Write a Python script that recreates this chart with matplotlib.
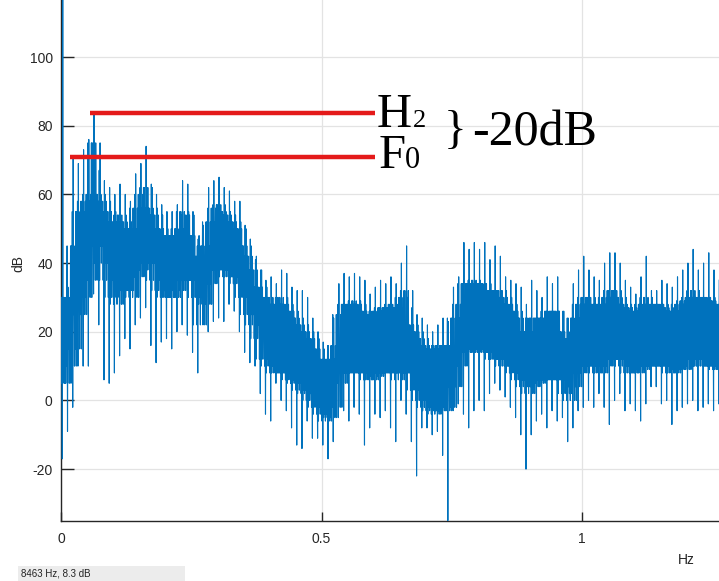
import matplotlib
matplotlib.use("Agg")
import matplotlib.pyplot as plt
import matplotlib.patches as mpatches
import numpy as np

plt.rcParams["axes.unicode_minus"] = False

# spectrum, one column per 0.01 Hz (0.00 .. 1.26)
spike_top = [118, 33, 71, 69, 73, 76, 84, 67, 64, 62, 60, 63, 60, 58, 66, 69, 74, 63, 60, 57,
             55, 55, 57, 64, 63, 55, 47, 51, 62, 64, 65, 62, 61, 58, 58, 51, 47, 41, 38, 35,
             36, 34, 38, 37, 33, 32, 32, 30, 24, 20, 17, 16, 24, 34, 37, 36, 37, 36, 35, 31,
             33, 35, 34, 36, 34, 40, 45, 27, 25, 24, 22, 20, 22, 24, 23, 33, 36, 46, 44, 46,
             44, 46, 41, 45, 42, 36, 35, 34, 33, 28, 35, 32, 30, 36, 34, 36, 26, 24, 34, 38,
             42, 38, 36, 35, 40, 43, 43, 40, 35, 33, 31, 36, 42, 32, 32, 35, 34, 33, 36, 38,
             40, 44, 38, 40, 43, 38, 35]
band_top = [30, 30, 45, 55, 58, 60, 75, 60, 58, 55, 52, 54, 52, 50, 56, 60, 62, 56, 54, 50,
            48, 48, 50, 55, 54, 48, 42, 45, 52, 56, 57, 55, 54, 52, 50, 45, 42, 38, 33, 30,
            30, 28, 30, 28, 26, 24, 22, 20, 18, 15, 12, 12, 16, 25, 28, 28, 29, 28, 26, 25,
            26, 27, 27, 28, 27, 30, 32, 22, 20, 18, 16, 15, 16, 16, 16, 24, 28, 34, 34, 35,
            34, 34, 32, 32, 32, 30, 28, 26, 24, 20, 24, 24, 24, 26, 26, 26, 20, 18, 24, 28,
            30, 30, 28, 28, 30, 32, 32, 30, 28, 27, 26, 28, 30, 28, 28, 28, 27, 26, 28, 29,
            30, 32, 30, 30, 30, 29, 28]
band_bottom = [5, 10, 15, 25, 30, 35, 45, 40, 35, 30, 28, 32, 32, 30, 36, 38, 40, 35, 32, 30,
               30, 30, 32, 35, 35, 30, 22, 28, 34, 38, 38, 36, 36, 34, 30, 25, 22, 18, 12, 10,
               8, 8, 8, 6, 5, 3, 2, 0, -2, -4, -6, -5, -2, 5, 8, 8, 8, 8, 6, 6,
               7, 8, 8, 8, 6, 8, 8, 3, 0, -2, -3, -4, -3, -3, -2, 4, 10, 14, 14, 15,
               14, 14, 12, 12, 10, 10, 8, 6, 4, 2, 4, 5, 6, 6, 6, 6, 2, 0, 4, 8,
               10, 10, 8, 8, 10, 12, 12, 10, 8, 8, 8, 9, 10, 10, 10, 10, 8, 8, 9, 9,
               10, 12, 10, 10, 10, 9, 9]
spike_bottom = [-17, -9, -2, 10, 10, 10, 31, 22, 6, 5, 8, 13, 18, 15, 22, 24, 27, 16, 11, 17,
                18, 15, 20, 22, 19, 14, 8, 22, 20, 23, 24, 23, 28, 26, 20, 14, 11, 10, 2, -4,
                -6, 5, 0, -3, -8, -13, -14, -6, -11, -11, -13, -17, -12, -5, -3, -6, -2, -4, -13, -8,
                -4, -5, -3, -8, -12, 0, -4, -12, -22, -8, -8, -10, -9, -16, -35, -3, -1, -4, -8, -3,
                0, -3, 2, 5, 3, 1, -2, -5, -10, -20, -10, -6, -4, -8, -3, -6, -5, -12, -8, -3,
                -2, 0, -2, 2, -2, -7, 0, 2, -3, -1, -3, -6, -1, 4, 4, -1, 0, -7, -3, -2,
                -1, 0, -3, -2, -1, -3, -1]
freq_step = 0.01

# annotation levels (dB) and spans (Hz)
h2_level, f0_level = 83.8, 71.0
h2_span = (0.056, 0.603)
f0_span = (0.017, 0.603)

W, H = 719, 581
fig = plt.figure(figsize=(W / 100, H / 100), dpi=100)
ax = fig.add_axes([61 / W, (H - 521) / H, (W - 61) / W, 521 / H])

# each column drawn as a dense zigzag; the band edges borrow the neighbouring
# columns' readings so the edge stays ragged instead of stepping
n = len(spike_top)
st, bt = np.array(spike_top), np.array(band_top)
bb, sb = np.array(band_bottom), np.array(spike_bottom)
nxt = np.r_[np.arange(1, n), n - 1]
prv = np.r_[0, np.arange(n - 1)]
highs = [bt, bt[nxt], st, bt[prv], bt, bt[nxt]]
lows = [bb, sb, bb[nxt], bb[prv], bb, bb[prv]]
ys = np.stack([v for pair in zip(highs, lows) for v in pair], axis=1)
k = ys.shape[1]
xs = np.arange(n)[:, None] * freq_step + np.arange(k)[None, :] * freq_step / k
ax.plot(xs.ravel(), ys.ravel(), color="#0072BD", lw=0.8, zorder=3)

ax.hlines(h2_level, *h2_span, color="#e41a1a", lw=3.2, zorder=4)
ax.hlines(f0_level, *f0_span, color="#e41a1a", lw=3.2, zorder=4)

ax.set_xlim(0, (W - 61) / 521)
ax.set_ylim(-35.1, 116.6)
ax.set_xticks([0, 0.5, 1])
ax.set_xticklabels(["0", "0.5", "1"])
ax.set_yticks([-20, 0, 20, 40, 60, 80, 100])
ax.grid(True, color="#e3e3e3", lw=0.9)
ax.set_axisbelow(True)
for side in ("top", "right"):
    ax.spines[side].set_visible(False)
for side in ("left", "bottom"):
    ax.spines[side].set_color("#262626")
    ax.spines[side].set_linewidth(1.0)
ax.tick_params(axis="y", direction="in", length=9, width=1.0, color="#262626",
               labelsize=10, labelcolor="#262626", pad=6)
ax.tick_params(axis="x", direction="in", length=6.5, width=1.0, color="#262626",
               labelsize=10, labelcolor="#262626", pad=8)
for lab in ax.get_xticklabels() + ax.get_yticklabels():
    lab.set_family("Liberation Sans")

fig.text(18 / W, 1 - 263 / H, "dB", rotation=90, ha="center", va="center",
         fontsize=10, color="#262626", family="Liberation Sans")
fig.text(686 / W, 1 - 560 / H, "Hz", ha="center", va="center",
         fontsize=10, color="#262626", family="Liberation Sans")

serif = "Liberation Serif"
fig.text(377 / W, 1 - 127 / H, "H", fontsize=35, family=serif, va="baseline")
fig.text(413 / W, 1 - 127 / H, "2", fontsize=19, family=serif, va="baseline")
fig.text(379 / W, 1 - 168 / H, "F", fontsize=35, family=serif, va="baseline")
fig.text(405 / W, 1 - 168 / H, "0", fontsize=22, family=serif, va="baseline")
fig.text(444 / W, 1 - 143 / H, "}", fontsize=34, family=serif, va="baseline")
fig.text(472 / W, 1 - 145 / H, "-20dB", fontsize=36, family=serif, va="baseline")

# status bar
fig.patches.append(mpatches.Rectangle((18 / W, 0), 167 / W, 15 / H, transform=fig.transFigure,
                                      facecolor="#ececec", edgecolor="none"))
fig.text(21 / W, 1 - 573 / H, "8463 Hz, 8.3 dB", fontsize=7, va="center",
         color="#222222", family="Liberation Sans")

fig.savefig("out.png", dpi=100)
